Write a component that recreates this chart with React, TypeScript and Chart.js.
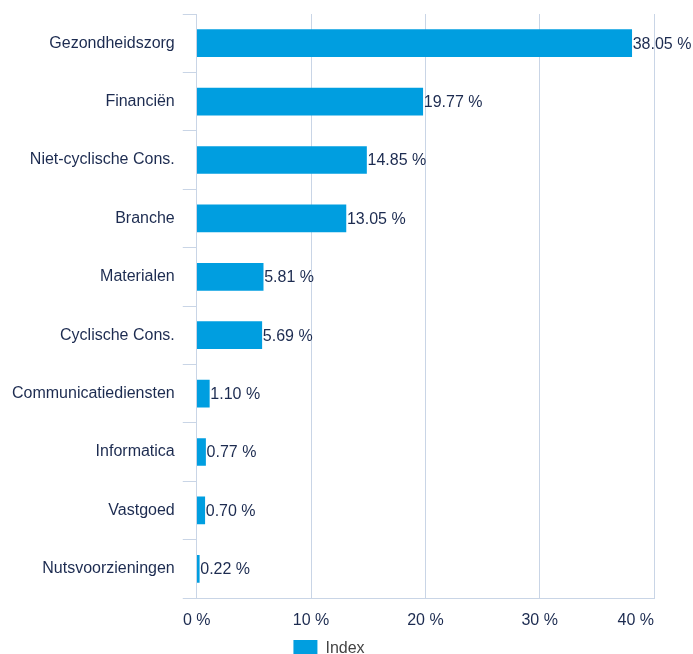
import React, { useEffect, useRef } from "react";
import { Chart, registerables } from "chart.js";

Chart.register(...registerables);

const categories = [
  "Gezondheidszorg",
  "Financiën",
  "Niet-cyclische Cons.",
  "Branche",
  "Materialen",
  "Cyclische Cons.",
  "Communicatiediensten",
  "Informatica",
  "Vastgoed",
  "Nutsvoorzieningen",
];
const indexValues = [38.05, 19.77, 14.85, 13.05, 5.81, 5.69, 1.1, 0.77, 0.7, 0.22];
const seriesName = "Index";
const xMin = 0;
const xMax = 40;
const xStep = 10;

const FONT = "'Liberation Sans', Arial, Helvetica, sans-serif";
const NAVY = "#1c2b50";
const GRID = "#c9d5e6";
const BAR = "#009ee0";

const fmtPct = (v: number) => v.toFixed(2) + " %";

const labelsPlugin = {
  id: "barLabels",
  afterDatasetsDraw(chart: any) {
    const ctx = chart.ctx;
    const meta = chart.getDatasetMeta(0);
    ctx.save();
    ctx.font = `16px ${FONT}`;
    ctx.fillStyle = NAVY;
    ctx.textAlign = "left";
    ctx.textBaseline = "middle";
    meta.data.forEach((el: any, i: number) => {
      ctx.fillText(fmtPct(indexValues[i]), el.x + 1, el.y + 1);
    });
    ctx.restore();
  },
  afterDraw(chart: any) {
    const xs = chart.scales.x;
    const ctx = chart.ctx;
    ctx.save();
    ctx.font = `16px ${FONT}`;
    ctx.fillStyle = NAVY;
    ctx.textBaseline = "middle";
    const n = xs.ticks.length;
    xs.ticks.forEach((t: any, i: number) => {
      const px = xs.getPixelForTick(i);
      ctx.textAlign = i === n - 1 ? "right" : "center";
      ctx.fillText(`${t.value} %`, px, xs.top + 23);
    });
    ctx.restore();
  },
};

export default function App() {
  const ref = useRef<HTMLCanvasElement | null>(null);
  useEffect(() => {
    if (!ref.current) return;
    const chart = new Chart(ref.current, {
      type: "bar",
      data: {
        labels: categories,
        datasets: [
          {
            label: seriesName,
            data: indexValues,
            backgroundColor: BAR,
            borderWidth: 0,
            barThickness: 27,
          },
        ],
      },
      options: {
        indexAxis: "y",
        animation: false,
        responsive: true,
        maintainAspectRatio: false,
        layout: { padding: { top: 14, right: 39, left: 4, bottom: 0 } },
        plugins: {
          legend: {
            position: "bottom",
            labels: {
              boxWidth: 24,
              boxHeight: 17,
              color: "#444444",
              font: { family: FONT, size: 16 },
              padding: 0,
            },
          },
          tooltip: { enabled: false },
        },
        scales: {
          x: {
            min: xMin,
            max: xMax,
            border: { display: true, color: GRID, width: 1 },
            grid: { color: GRID, drawTicks: false, lineWidth: 1 },
            ticks: {
              stepSize: xStep,
              padding: 13,
              maxRotation: 0,
              font: { family: FONT, size: 16, lineHeight: 1 },
              color: "rgba(0,0,0,0)",
              callback: (v: any) => `${v} %`,
            },
          },
          y: {
            border: { display: true, color: GRID, width: 1 },
            grid: {
              color: GRID,
              drawOnChartArea: false,
              offset: true,
              tickLength: 14,
            },
            ticks: {
              padding: 8,
              font: { family: FONT, size: 16, lineHeight: 0.75 },
              color: NAVY,
            },
          },
        },
      },
      plugins: [labelsPlugin],
    });
    return () => chart.destroy();
  }, []);
  return (
    <div style={{ position: "fixed", left: 0, top: 0, width: 693, height: 654, overflow: "hidden", background: "#fff" }}>
      <div style={{ position: "relative", width: 693, height: 667 }}>
        <canvas ref={ref} />
      </div>
    </div>
  );
}
